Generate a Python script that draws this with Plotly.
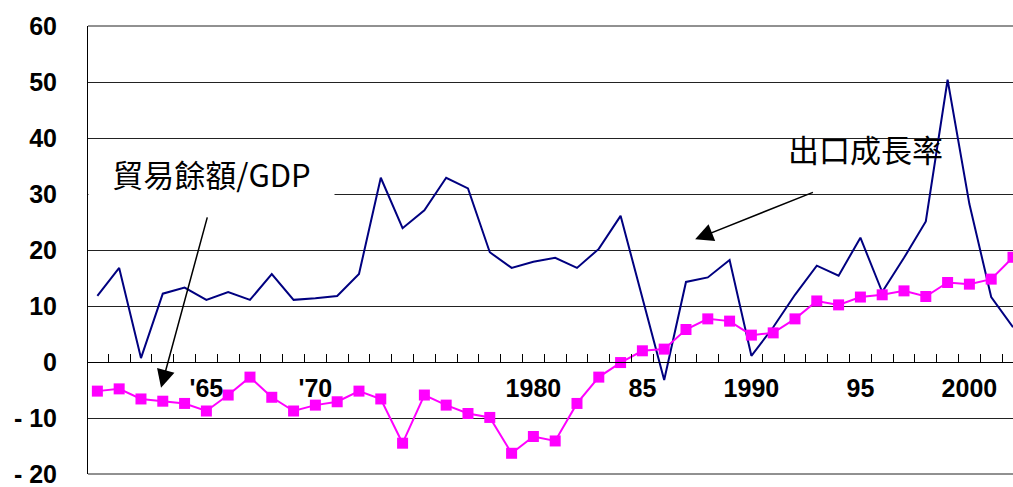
import plotly.graph_objects as go

years = list(range(1960, 2003))

export_growth = [11.8, 16.8, 0.7, 12.2, 13.3, 11.1, 12.5, 11.1, 15.7, 11.1,
                 11.4, 11.8, 15.7, 32.9, 23.9, 27.1, 32.9, 31.0, 19.6, 16.8,
                 17.9, 18.6, 16.8, 20.2, 26.1, 11.5, -3.2, 14.3, 15.1, 18.2,
                 1.1, 6.2, 12.0, 17.2, 15.4, 22.2, 12.5, 18.6, 25.1, 50.4,
                 28.2, 11.6, 6.2]

trade_balance_gdp = [-5.2, -4.8, -6.6, -7.0, -7.4, -8.75, -5.9, -2.7, -6.3, -8.75,
                     -7.7, -7.1, -5.2, -6.6, -14.5, -5.9, -7.7, -9.2, -9.9, -16.3,
                     -13.3, -14.1, -7.4, -2.7, -0.1, 2.0, 2.3, 5.8, 7.7, 7.3,
                     4.8, 5.2, 7.7, 10.9, 10.2, 11.6, 12.0, 12.7, 11.7, 14.2,
                     13.9, 14.8, 18.7]

x_tick_vals = [1965, 1970, 1980, 1985, 1990, 1995, 2000]
x_tick_text = ["'65", "'70", "1980", "85", "1990", "95", "2000"]

y_tick_vals = [60, 50, 40, 30, 20, 10, 0, -10, -20]
y_tick_text = ["60", "50", "40", "30", "20", "10", "0", "- 10", "- 20"]

label_export = "出口成長率"
label_trade = "貿易餘額/GDP"

fig = go.Figure()

fig.add_trace(go.Scatter(
    x=years, y=export_growth, mode="lines",
    line=dict(color="#000080", width=2),
    name=label_export, showlegend=False,
))

fig.add_trace(go.Scatter(
    x=years, y=trade_balance_gdp, mode="lines+markers",
    line=dict(color="#FF00FF", width=2),
    marker=dict(symbol="square", size=11, color="#FF00FF"),
    name=label_trade, showlegend=False,
))

tick_font = dict(family="Liberation Sans, Arial, sans-serif", size=25,
                 color="black", weight="bold")
cjk_font = dict(family="Noto Sans CJK TC, Noto Sans CJK SC, sans-serif", size=31, color="black")

fig.update_layout(
    width=1013, height=487,
    margin=dict(l=88, r=0, t=26, b=13, autoexpand=False),
    paper_bgcolor="white", plot_bgcolor="white",
    xaxis=dict(
        range=[1959.57, 2002.0],
        anchor="free", position=0.25, automargin=False,
        showline=True, linecolor="black", linewidth=1,
        showgrid=False, zeroline=False,
        tickmode="array", tickvals=x_tick_vals, ticktext=x_tick_text,
        ticks="", tickfont=tick_font,
        ticklabelstandoff=4, ticklabeloverflow="allow",
        minor=dict(tickmode="linear", tick0=1960.5, dtick=1, ticks="inside",
                   ticklen=8, tickcolor="black", tickwidth=1, showgrid=False),
    ),
    yaxis=dict(
        range=[-20, 60], automargin=False,
        tickmode="array", tickvals=y_tick_vals, ticktext=y_tick_text,
        showgrid=True, gridcolor="#222222", gridwidth=1,
        zeroline=False,
        showline=True, linecolor="black", linewidth=1,
        ticks="", tickfont=tick_font,
        ticklabelstandoff=25, ticklabeloverflow="allow",
    ),
    shapes=[
        dict(type="line", xref="paper", yref="paper", x0=0, x1=1, y0=1, y1=1,
             line=dict(color="#222222", width=1), layer="below"),
        dict(type="line", xref="paper", yref="paper", x0=0, x1=1, y0=0, y1=0,
             line=dict(color="#222222", width=1), layer="below"),
    ],
    annotations=[
        dict(x=1965.24, y=33.75, xref="x", yref="y", text=label_trade,
             showarrow=False, font=cjk_font, bgcolor="white",
             width=243, height=48, xanchor="center", yanchor="middle"),
        dict(x=1995.24, y=38.2, xref="x", yref="y", text=label_export,
             showarrow=False, font=cjk_font, xanchor="center", yanchor="middle"),
        dict(x=1962.92, y=-4.6, xref="x", yref="y",
             ax=1965.06, ay=26.1, axref="x", ayref="y",
             text="", showarrow=True, arrowhead=2, arrowsize=2.4,
             arrowwidth=1.5, arrowcolor="black", standoff=0),
        dict(x=1987.42, y=21.9, xref="x", yref="y",
             ax=1992.89, ay=30.4, axref="x", ayref="y",
             text="", showarrow=True, arrowhead=2, arrowsize=2.4,
             arrowwidth=1.5, arrowcolor="black", standoff=0),
    ],
)

# remove the default 8px page margin so the figure fills the window exactly
fig.write_html(
    "out.html",
    config={"displayModeBar": False},
    post_script="document.body.style.margin='0px';document.body.style.overflow='hidden';",
)
